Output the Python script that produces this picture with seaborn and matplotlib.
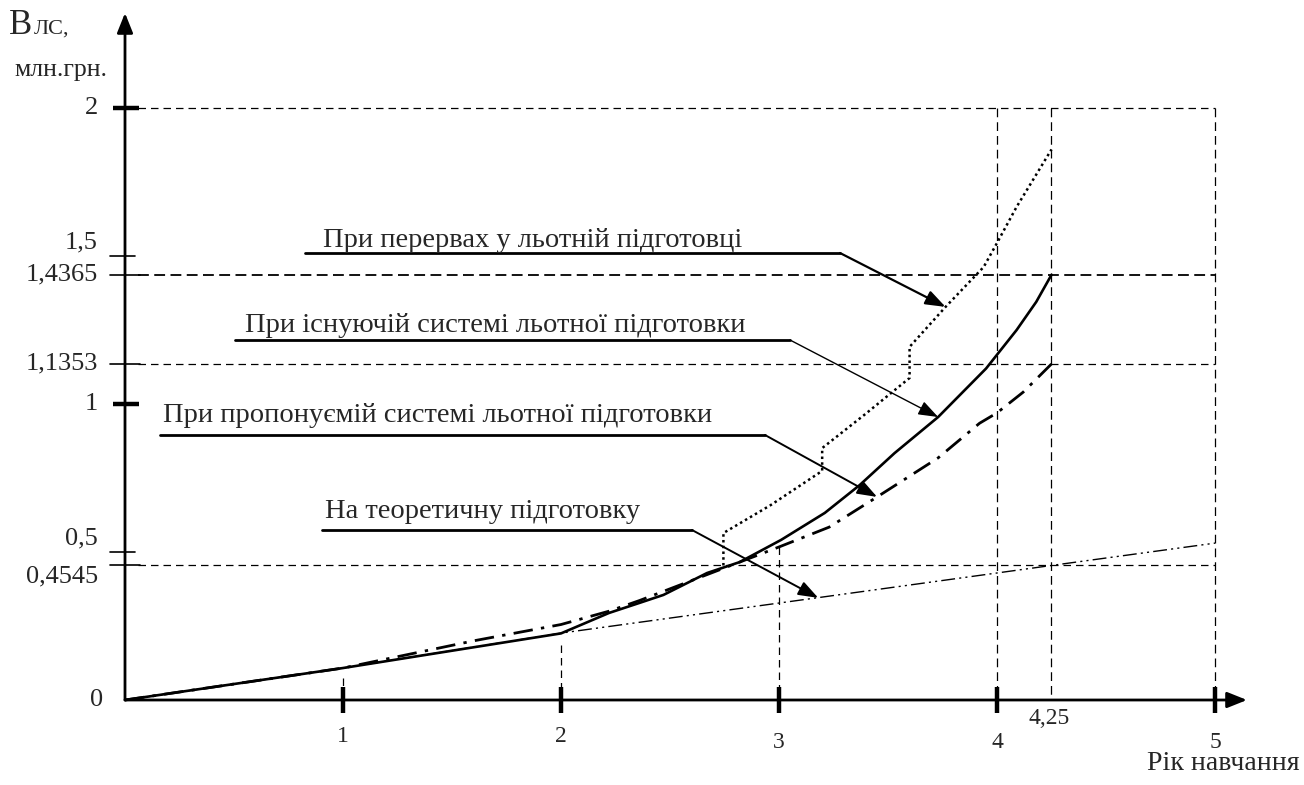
import numpy as np
import pandas as pd
import matplotlib
matplotlib.use("Agg")
import matplotlib.pyplot as plt
import seaborn as sns

# Data
years = [1, 2, 3, 4, 5]
year_labels = ["1", "2", "3", "4", "5"]
y_marks = [0, 0.4545, 0.5, 1, 1.1353, 1.4365, 1.5, 2]

# При існуючій системі льотної підготовки (solid)
existing_x = [0, 1, 2, 2.22, 2.36, 2.47, 2.67, 2.82, 3.01, 3.21, 3.37, 3.53, 3.73, 3.95, 4.09, 4.18, 4.25]
existing_y = [0, 0.108, 0.225, 0.294, 0.328, 0.355, 0.429, 0.466, 0.541, 0.632, 0.726, 0.834, 0.956, 1.12, 1.25, 1.345, 1.4365]

# При пропонуємій системі льотної підготовки (dash-dot)
proposed_x = [0, 1, 1.6, 2, 2.22, 2.36, 2.88, 3.0, 3.23, 3.45, 3.73, 3.92, 4.0, 4.12, 4.25]
proposed_y = [0, 0.108, 0.2, 0.255, 0.3, 0.336, 0.483, 0.517, 0.584, 0.686, 0.818, 0.935, 0.97, 1.04, 1.1353]

# При перервах у льотній підготовці (dotted, with steps)
breaks_x = [2.745, 2.745, 2.963, 3.198, 3.198, 3.396, 3.599, 3.599, 3.764, 3.939, 4.0, 4.09, 4.25]
breaks_y = [0.4545, 0.564, 0.659, 0.774, 0.851, 0.966, 1.088, 1.193, 1.328, 1.463, 1.544, 1.666, 1.86]

# На теоретичну підготовку (dash-dot-dot)
theory_x = [0, 1, 2, 4.25, 5]
theory_y = [0, 0.108, 0.226, 0.4545, 0.53]

# figure geometry: origin at (125, 700) px, 218 px per year, 296 px per mln
W, H = 1304, 785
PX_X, PX_Y = 218.0, 296.0
X0, Y0 = 125.0, 700.0

sns.set_theme(style="white")
plt.rcParams["font.family"] = ["Liberation Serif", "DejaVu Serif"]

fig = plt.figure(figsize=(W / 100, H / 100), dpi=100)
ax = fig.add_axes([0, 0, 1, 1])
ax.set_xlim(-X0 / PX_X, (W - X0) / PX_X)
ax.set_ylim(-(H - Y0) / PX_Y, Y0 / PX_Y)
ax.axis("off")


def dx(px):
    return px / PX_X


def dy(px):
    return px / PX_Y


# reference dashed lines
for v in [2, 1.1353, 0.4545]:
    ax.plot([dx(13), 5], [v, v], color="black", lw=0.9, dashes=(6, 4))
ax.plot([dx(13), 5], [1.4365, 1.4365], color="black", lw=1.3, dashes=(6, 3))
for xv in [4, 4.25, 5]:
    ax.plot([xv, xv], [2, 0], color="black", lw=0.9, dashes=(7, 4))
ax.plot([1, 1], [theory_y[1] - dy(10), 0], color="black", lw=0.9, dashes=(6, 4))
ax.plot([2, 2], [theory_y[2] - dy(12), 0], color="black", lw=0.9, dashes=(6, 4))
ax.plot([3, 3], [proposed_y[7], 0], color="black", lw=0.9, dashes=(6, 4))

# curves
sns.lineplot(data=pd.DataFrame({"x": theory_x, "y": theory_y}), x="x", y="y",
             sort=False, estimator=None, color="black", lw=1.0,
             linestyle=(0, (10, 3, 1.5, 3, 1.5, 3)), ax=ax)
sns.lineplot(data=pd.DataFrame({"x": proposed_x, "y": proposed_y}), x="x", y="y",
             sort=False, estimator=None, color="black", lw=2.0,
             linestyle=(0, (7, 3, 1.2, 3)), ax=ax)
sns.lineplot(data=pd.DataFrame({"x": existing_x, "y": existing_y}), x="x", y="y",
             sort=False, estimator=None, color="black", lw=1.9, ax=ax)
sns.lineplot(data=pd.DataFrame({"x": breaks_x, "y": breaks_y}), x="x", y="y",
             sort=False, estimator=None, color="black", lw=1.8,
             linestyle=(0, (1, 1.3)), ax=ax)

# axes with arrows
axis_arrow = dict(arrowstyle="-|>,head_length=0.5,head_width=0.2", lw=2,
                  color="black", mutation_scale=24, shrinkA=0, shrinkB=0)
ax.annotate("", xy=(dx(1247 - X0), 0), xytext=(0, 0), arrowprops=axis_arrow)
ax.annotate("", xy=(0, dy(Y0 - 13)), xytext=(0, 0), arrowprops=axis_arrow)

# x ticks and labels
for xv, lab in zip(years, year_labels):
    ax.plot([xv, xv], [dy(13), -dy(13)], color="black", lw=3.2, solid_capstyle="butt")
    ax.text(xv, -dy(37 if xv < 3 else 42), lab, ha="center", va="center", fontsize=17)
ax.text(4.25 + dx(-2), -dy(18), "4,25", ha="center", va="center", fontsize=17)
ax.text(dx(1300 - X0), -dy(64), "Рік навчання", ha="right", va="center", fontsize=20)

# y ticks and labels
label_shift = {0: 0, 0.4545: -11, 0.5: 14, 1: 0, 1.1353: 0, 1.4365: 0, 1.5: 14, 2: 0}
for v in y_marks:
    if v == 0:
        pass
    elif v in (1, 2):
        ax.plot([-dx(12), dx(14)], [v, v], color="black", lw=3.2, solid_capstyle="butt")
    elif v in (0.5, 1.5):
        ax.plot([-dx(15), dx(10)], [v, v], color="black", lw=1.2)
    else:
        ax.plot([-dx(15), dx(15)], [v, v], color="black", lw=1.2)
    lab = ("%g" % v).replace(".", ",")
    ax.text(-dx(27 if v else 22), v + dy(label_shift[v]), lab, ha="right", va="center", fontsize=19)

# axis title
ax.text(dx(9 - X0), dy(Y0 - 34), "B", ha="left", va="baseline", fontsize=25)
ax.text(dx(34 - X0), dy(Y0 - 34), "ЛС,", ha="left", va="baseline", fontsize=16)
ax.text(dx(14 - X0), dy(Y0 - 76), "млн.грн.", ha="left", va="baseline", fontsize=18.5)

# callouts
lead = dict(arrowstyle="-|>,head_length=0.55,head_width=0.2", color="black",
            mutation_scale=22, shrinkA=0, shrinkB=0)
callouts = [
    ("При перервах у льотній підготовці", 323, 240, 305, 840, 253, (breaks_x[8], breaks_y[8]), 1.6),
    ("При існуючій системі льотної підготовки", 245, 325, 235, 790, 340, (existing_x[12], existing_y[12]), 1.0),
    ("При пропонуємій системі льотної підготовки", 163, 415, 160, 765, 435, (proposed_x[9], proposed_y[9]), 1.4),
    ("На теоретичну підготовку", 325, 512, 322, 692, 530, (3.18, 0.345), 1.4),
]
for text, tx, ty, ux0, ux1, uy, target, lw in callouts:
    ax.text(dx(tx - X0), dy(Y0 - ty), text, ha="left", va="center", fontsize=20.5)
    ax.plot([dx(ux0 - X0), dx(ux1 - X0)], [dy(Y0 - uy)] * 2, color="black", lw=2.0)
    ax.annotate("", xy=target, xytext=(dx(ux1 - X0), dy(Y0 - uy)),
                arrowprops=dict(lead, lw=lw))

fig.savefig("out.png", dpi=100)
